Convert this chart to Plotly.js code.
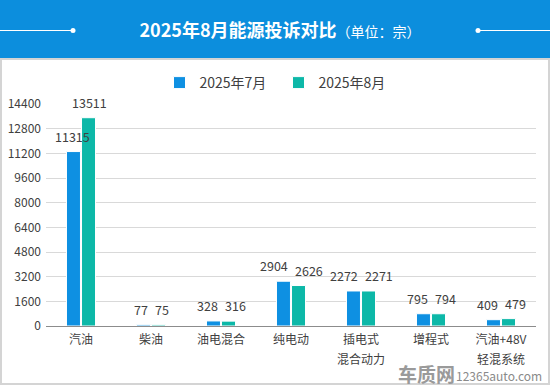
<!DOCTYPE html>
<html><head><meta charset="utf-8">
<script src="https://cdn.plot.ly/plotly-3.0.1.min.js"></script>
<style>html,body{margin:0;padding:0;background:#fff}#c{width:550px;height:386px}</style>
</head><body><div id="c"></div>
<script>
const categories = ["汽油", "柴油", "油电混合", "纯电动", "插电式<br>混合动力", "增程式", "汽油+48V<br>轻混系统"];
const julValues = [11315, 77, 328, 2904, 2272, 795, 409];
const augValues = [13511, 75, 316, 2626, 2271, 794, 479];
const seriesNames = ["2025年7月", "2025年8月"];
const yTicks = [0, 1600, 3200, 4800, 6400, 8000, 9600, 11200, 12800, 14400];

const W = 550, H = 386, L = 46, R = 14, T = 104, B = 60;
const pw = W - L - R, ph = H - T - B;
const YMAX = 14400;
const px = x => (x - L) / pw;
const py = y => (H - B - y) / ph;
const font = '"Noto Sans CJK SC", "Noto Sans", sans-serif';
const colors = ['#0E90E2', '#0DB8A8'];

const mk = (name, vals, color) => ({
  type: 'bar', name: name, x: categories, y: vals,
  marker: {color: color, line: {color: '#ffffff', width: 1}},
  hoverinfo: 'none'
});
const data = [mk(seriesNames[0], julValues, colors[0]), mk(seriesNames[1], augValues, colors[1])];

// value labels: pushed outward when the two labels would collide
const labelAnns = [];
categories.forEach((c, i) => {
  const dpx = Math.abs(julValues[i] - augValues[i]) / YMAX * ph;
  const apart = dpx > 15;
  const common = {xref: 'x', yref: 'y', x: c, showarrow: false, yanchor: 'bottom', yshift: 4,
                  font: {family: font, size: 12.5, color: '#404040'}};
  labelAnns.push(Object.assign({}, common, {y: julValues[i], text: String(julValues[i]),
    xanchor: apart ? 'center' : 'right', xshift: apart ? -9 : -1}));
  labelAnns.push(Object.assign({}, common, {y: augValues[i], text: String(augValues[i]),
    xanchor: apart ? 'center' : 'left', xshift: apart ? 8 : 2}));
});

// category labels: first line as tick text, second line (if any) just below it
const firstLines = categories.map(c => c.split('<br>')[0]);
const secondLineAnns = [];
categories.forEach(c => {
  const parts = c.split('<br>');
  if (parts.length > 1) {
    secondLineAnns.push({xref: 'x', yref: 'paper', x: c, y: 0, yanchor: 'middle', yshift: -32.5,
      text: parts[1], showarrow: false, font: {family: font, size: 12, color: '#404040'}});
  }
});

const shapes = [
  {type: 'rect', xref: 'paper', yref: 'paper', x0: px(0), x1: px(550), y0: py(59), y1: py(0), fillcolor: '#0C8EDD', line: {width: 0}, layer: 'below'},
  {type: 'rect', xref: 'paper', yref: 'paper', x0: px(1), x1: px(549), y0: py(384), y1: py(59), fillcolor: 'rgba(0,0,0,0)', line: {color: '#d4d4d4', width: 2}, layer: 'below'},
  {type: 'line', xref: 'paper', yref: 'paper', x0: px(0), x1: px(73), y0: py(30.5), y1: py(30.5), line: {color: '#ffffff', width: 1}},
  {type: 'line', xref: 'paper', yref: 'paper', x0: px(478), x1: px(550), y0: py(30.5), y1: py(30.5), line: {color: '#ffffff', width: 1}},
  {type: 'circle', xref: 'paper', yref: 'paper', x0: px(70.5), x1: px(75.5), y0: py(33), y1: py(28), fillcolor: '#ffffff', line: {width: 0}},
  {type: 'circle', xref: 'paper', yref: 'paper', x0: px(475.5), x1: px(480.5), y0: py(33), y1: py(28), fillcolor: '#ffffff', line: {width: 0}}
];

const layout = {
  width: W, height: H,
  margin: {l: L, r: R, t: T, b: B, pad: 0},
  paper_bgcolor: '#ffffff', plot_bgcolor: '#ffffff',
  font: {family: font, size: 12, color: '#404040'},
  title: {
    text: "<b>2025年8月能源投诉对比</b><span style='font-size:14px'>（单位：宗）</span>",
    font: {family: font, size: 18, color: '#ffffff'},
    x: 280 / W, xref: 'container', xanchor: 'center',
    y: 1 - 31 / H, yref: 'container', yanchor: 'middle'
  },
  barmode: 'group', bargap: 0.57, bargroupgap: 0.07,
  showlegend: true,
  legend: {orientation: 'h', x: px(278.5), xanchor: 'center', y: py(83), yanchor: 'middle',
           font: {family: font, size: 14, color: '#404040'}, itemwidth: 30,
           entrywidth: 74, entrywidthmode: 'pixels', bgcolor: 'rgba(0,0,0,0)'},
  xaxis: {type: 'category', categoryarray: categories, tickvals: categories, ticktext: firstLines,
          showgrid: false, showline: true, linecolor: '#8c8c8c', linewidth: 1,
          ticks: '', ticklabelstandoff: 3,
          tickfont: {family: font, size: 12, color: '#404040'}, fixedrange: true},
  yaxis: {range: [0, YMAX], tickvals: yTicks, ticktext: yTicks.map(String), showgrid: true,
          gridcolor: '#d9d9d9', gridwidth: 1, zeroline: false, showline: false, ticks: '',
          ticklabelstandoff: 4,
          tickfont: {family: font, size: 12, color: '#404040'}, fixedrange: true},
  shapes: shapes,
  annotations: labelAnns.concat(secondLineAnns).concat([
    {xref: 'paper', yref: 'paper', x: px(426), y: py(373), text: '<b>车质网</b>', showarrow: false,
     font: {family: font, size: 19, color: '#9a9a9a'}, xanchor: 'center', yanchor: 'middle'},
    {xref: 'paper', yref: 'paper', x: px(499), y: py(375), text: '12365auto.com', showarrow: false,
     font: {family: font, size: 12, color: '#8a8a8a'}, xanchor: 'center', yanchor: 'middle'}
  ])
};

Plotly.newPlot('c', data, layout, {displayModeBar: false, staticPlot: true});
</script></body></html>
